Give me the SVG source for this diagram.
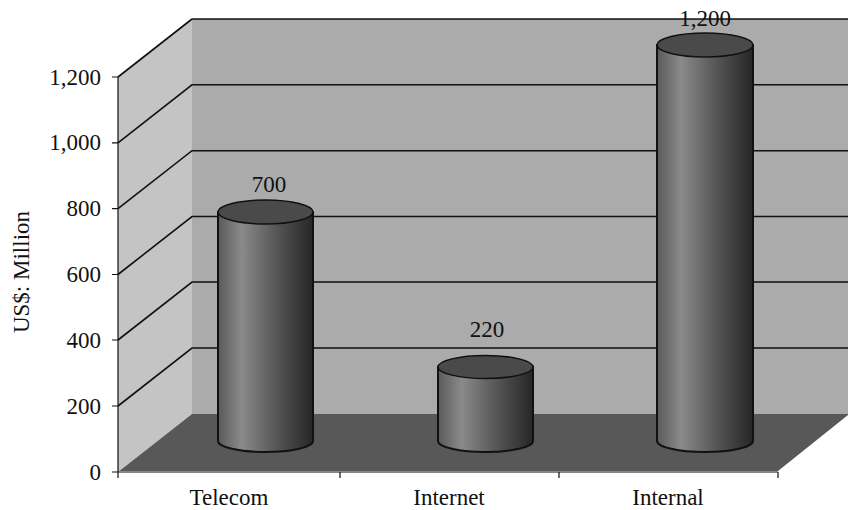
<svg xmlns="http://www.w3.org/2000/svg" width="848" height="510" viewBox="0 0 848 510">
<defs>
<linearGradient id="cyl" x1="0" y1="0" x2="1" y2="0">
<stop offset="0" stop-color="#5a5a5a"/>
<stop offset="0.25" stop-color="#8a8a8a"/>
<stop offset="0.6" stop-color="#585858"/>
<stop offset="1" stop-color="#262626"/>
</linearGradient>
<style>
.grid{stroke:#111;stroke-width:1.6;fill:none}
.ax{stroke:#111;stroke-width:1.2;fill:none}
.t{font-family:"Liberation Serif","Times New Roman",serif;font-size:23px;fill:#111}
.body{fill:url(#cyl);stroke:#111;stroke-width:2}
.top{fill:#4a4a4a;stroke:#111;stroke-width:1.5}
</style>
</defs>
<rect width="848" height="510" fill="#fff"/>
<g id="walls">
<polygon points="192,19 848,19 848,414 192,414" fill="#ababab"/>
<polygon points="118,77 192,19 192,414 118,472" fill="#c4c4c4"/>
<polygon points="118,472 192,414 848,414 848,415 778,471 118,471" fill="#585858"/>
<line x1="192" y1="19" x2="848" y2="19" class="grid"/>
<line x1="118" y1="77" x2="192" y2="19" class="grid"/>
</g>
<g id="gridlines">
<polyline class="grid" points="118,406 192,348 848,348"/>
<polyline class="grid" points="118,340 192,282 848,282"/>
<polyline class="grid" points="118,274.5 192,216.5 848,216.5"/>
<polyline class="grid" points="118,208.7 192,150.7 848,150.7"/>
<polyline class="grid" points="118,142.8 192,84.8 848,84.8"/>
</g>
<g id="axes">
<line class="ax" x1="118" y1="77" x2="118" y2="472"/>
<line class="ax" x1="118" y1="472" x2="778" y2="472"/>
<path class="ax" d="M112,77H118M112,142.8H118M112,208.7H118M112,274.5H118M112,340H118M112,406H118M112,472H118"/>
<path class="ax" d="M118,472V478M340,472V478M559,472V478M778,472V478"/>
</g>
<g id="ylabels" class="t" text-anchor="end">
<text x="101" y="85">1,200</text>
<text x="101" y="150">1,000</text>
<text x="101" y="216">800</text>
<text x="101" y="282">600</text>
<text x="101" y="348">400</text>
<text x="101" y="414">200</text>
<text x="101" y="480">0</text>
</g>
<text class="t" transform="translate(29,272) rotate(-90)" text-anchor="middle">US$: Million</text>
<g id="telecom">
<path class="body" d="M218,212V441A47.5,11 0 0 0 313,441V212Z"/>
<ellipse class="top" cx="265.5" cy="212" rx="47.5" ry="12"/>
<text class="t" x="269" y="192" text-anchor="middle">700</text>
</g>
<g id="internet">
<path class="body" d="M438,367V441A47.5,11 0 0 0 533,441V367Z"/>
<ellipse class="top" cx="485.5" cy="367" rx="47.5" ry="11.5"/>
<text class="t" x="487" y="337" text-anchor="middle">220</text>
</g>
<g id="internal">
<path class="body" d="M657,45V441A48,11 0 0 0 753,441V45Z"/>
<ellipse class="top" cx="705" cy="45" rx="48" ry="12"/>
<text class="t" x="705" y="26" text-anchor="middle">1,200</text>
</g>
<g id="xlabels" class="t" text-anchor="middle">
<text x="229" y="505">Telecom</text>
<text x="449" y="505">Internet</text>
<text x="668" y="505">Internal</text>
</g>
</svg>
